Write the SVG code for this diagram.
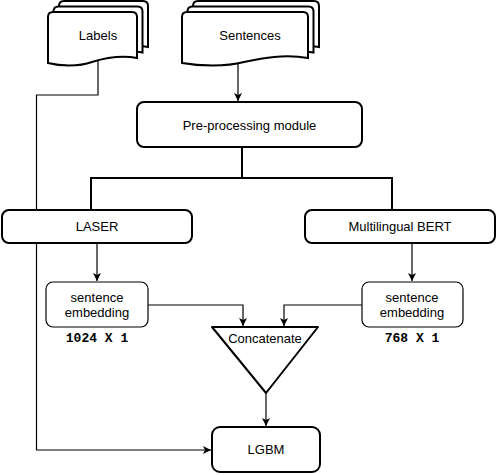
<svg xmlns="http://www.w3.org/2000/svg" width="498" height="475" viewBox="0 0 498 475">
<style>
.node{fill:#fff;stroke:#000;stroke-width:2}
.thin{fill:#fff;stroke:#000;stroke-width:1.2}
.conn{fill:none;stroke:#000;stroke-width:1.2}
.split{fill:none;stroke:#000;stroke-width:2}
.t{font-family:"Liberation Sans",Arial,sans-serif;font-size:13px;text-anchor:middle;fill:#000}
.m{font-family:"Liberation Mono","Courier New",monospace;font-size:13px;font-weight:bold;text-anchor:middle;fill:#000}
</style>
<defs>
<marker id="arr" markerUnits="userSpaceOnUse" markerWidth="10" markerHeight="10" refX="8" refY="4" orient="auto">
<path d="M0,0 L8,4 L0,8 L2,4 Z" fill="#000"/>
</marker>
<path id="docL" class="node" d="M0,5 Q0,0 5,0 H84 Q89,0 89,5 V46 C72,43 57,46 44,50 C30,55 12,54 0,51 Z"/>
<path id="docS" class="node" d="M0,5 Q0,0 5,0 H121 Q126,0 126,5 V46 C102,42 81,46 62,50 C43,55 17,54 0,51 Z"/>
</defs>
<g id="connectors">
<path class="conn" d="M98,61 V95 H36.5 V450 H211" marker-end="url(#arr)"/>
<path class="conn" d="M238,63 V101" marker-end="url(#arr)"/>
<path class="split" d="M242,147 V178 M91,178 H392 M91,177 V210 M392,177 V210"/>
<path class="conn" d="M97,243 V281" marker-end="url(#arr)"/>
<path class="conn" d="M412,243 V281" marker-end="url(#arr)"/>
<path class="conn" d="M148,305 H243 V326" marker-end="url(#arr)"/>
<path class="conn" d="M362,305 H284 V326" marker-end="url(#arr)"/>
<path class="conn" d="M266,393 V426" marker-end="url(#arr)"/>
</g>
<g id="labels">
<use href="#docL" x="59" y="1"/>
<use href="#docL" x="53.5" y="6.5"/>
<use href="#docL" x="48" y="12"/>
<text class="t" x="98" y="40">Labels</text>
</g>
<g id="sentences">
<use href="#docS" x="193" y="1"/>
<use href="#docS" x="187.5" y="6.5"/>
<use href="#docS" x="182" y="12"/>
<text class="t" x="250" y="40">Sentences</text>
</g>
<g id="preprocessing">
<rect class="node" x="137" y="102" width="225" height="45" rx="7"/>
<text class="t" x="249.5" y="130">Pre-processing module</text>
</g>
<g id="laser">
<rect class="node" x="2" y="210" width="190" height="33" rx="7"/>
<text class="t" x="97" y="231">LASER</text>
</g>
<g id="bert">
<rect class="node" x="305" y="210" width="190" height="33" rx="7"/>
<text class="t" x="400" y="231">Multilingual BERT</text>
</g>
<g id="emb-left">
<rect class="thin" x="46" y="282" width="102" height="45" rx="7"/>
<text class="t" x="97" y="302">sentence</text>
<text class="t" x="97" y="317">embedding</text>
<text class="m" x="97" y="342">1024 X 1</text>
</g>
<g id="emb-right">
<rect class="thin" x="362" y="282" width="101" height="45" rx="7"/>
<text class="t" x="412" y="302">sentence</text>
<text class="t" x="412" y="317">embedding</text>
<text class="m" x="412" y="342">768 X 1</text>
</g>
<g id="concatenate">
<path class="node" stroke-linejoin="round" d="M212,327 H318 L266,393 Z"/>
<text class="t" x="265" y="343">Concatenate</text>
</g>
<g id="lgbm">
<rect class="node" x="212" y="427" width="108" height="45" rx="8"/>
<text class="t" x="266" y="454">LGBM</text>
</g>
</svg>
